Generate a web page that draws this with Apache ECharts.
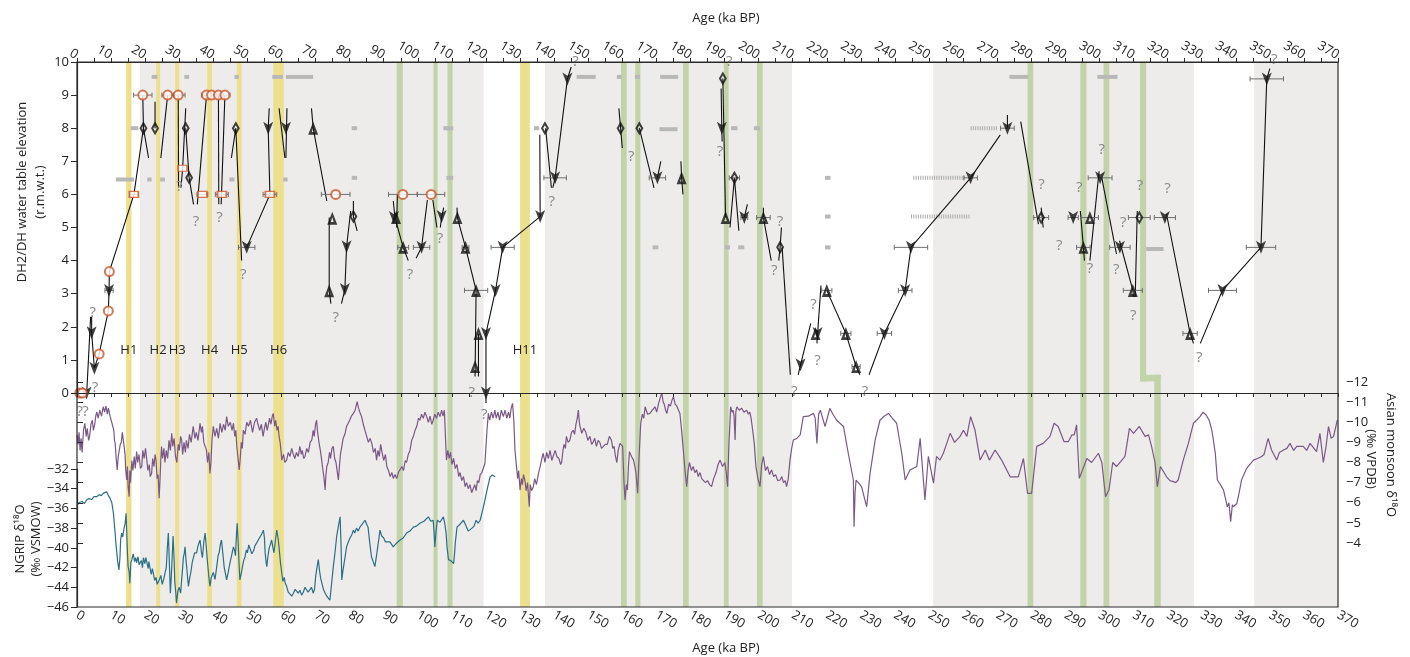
<!DOCTYPE html>
<html><head><meta charset="utf-8">
<script src="https://cdn.jsdelivr.net/npm/echarts@6/dist/echarts.min.js"></script>
<style>html,body{margin:0;padding:0;background:#fff}#c{width:1410px;height:657px}</style>
</head><body><div id="c"></div>
<script>
// ---------------- DATA ----------------
const xTicks = {min: 0, max: 370, step: 10};
const elevTicks = {min: 0, max: 10, step: 1};
const ngripTicks = {min: -46, max: -32, step: 2};
const monsoonTicks = {min: -12, max: -4, step: 1};

const greyBands = [[18.5,119.3],[137.3,209.8],[251.2,327.8],[345.4,370]];
const yellowBands = [[14.4,16.0],[23.2,24.4],[28.8,30.0],[38.2,39.6],[46.9,48.3],[57.6,60.7],[130.0,132.9]];
const hNames = ['H1','H2','H3','H4','H5','H6','H11'];
const hLabelElev = 1.3;
const greenBands = [[93.8,95.6],[104.6,105.8],[108.7,110.2],[159.6,161.3],[163.8,165.3],[177.8,179.5],[189.8,191.2],[199.5,201.2],[278.9,280.6],[294.4,296.2],[301.2,302.9]];
// [x0, x1, elevTop, elevBottom] (null bottom = to the lower edge of the panel)
const greenStep = [[311.9,313.7,10,0.35],[311.9,318.0,0.55,0.35],[316.1,318.0,0.55,null]];

// grey horizontal dashes [x0, x1, elevation]
const greyDashes = [
 [21.9,23.6,9.55],[31.5,32.9,9.55],[46.2,47.5,9.55],[57.3,60.4,9.55],[61.3,69.3,9.55],[146.6,152.2,9.55],[158.4,159.8,9.55],[163.7,165.2,9.55],[171.1,176.4,9.55],[273.6,279.1,9.55],[299.4,305.3,9.55],
 [15.8,18.0,8],[80.6,82.2,8],[107.5,110.4,8],[134.1,135.6,8],[170.9,176.2,7.97],[191.9,193.8,8],[198.6,200.4,8],
 [11.4,16.7,6.45],[20.6,21.9,6.45],[24.4,25.8,6.45],[44.7,46.2,6.45],[60.5,61.8,6.45],[80.6,82.2,6.5],[108.4,110.4,6.5],[219.5,221.1,6.5],
 [219.5,221.1,5.33],
 [168.9,170.6,4.4],[190.1,191.6,4.4],[194.0,195.8,4.4],[219.5,221.1,4.4],[313.7,318.8,4.35]
];
const hatchedDashes = [[262.2,270.3,8.0],[245.4,260.6,6.5],[244.7,262.2,5.33]];

// markers [age, elevation, age error (half width)]
const downTris = [[2.8,0,0],[4.3,1.82,0],[5.1,0.75,0],[9.4,3.1,1.2],[49.8,4.4,2.4],[56.1,8,0],[61.3,8,0],[78.6,3.13,0],[79.1,4.42,0],[93.0,5.3,0],[101.1,4.4,2.4],[107.0,5.33,0],[120.0,1.8,0],[120.0,0,0],[122.8,3.1,0],[124.9,4.4,3.4],[135.9,5.33,0],[140.3,6.5,3.3],[143.9,9.49,0],[170.3,6.5,2.4],[189.2,8,0],[195.8,5.3,1.0],[212.3,0.85,0],[217.3,1.8,0],[236.9,1.8,2.1],[243.0,3.1,2.0],[244.7,4.4,4.9],[262.2,6.5,2.0],[273.0,8,2.0],[292.3,5.3,1.5],[300.2,6.5,3.5],[306.0,4.4,3.0],[319.2,5.3,3.1],[336.1,3.1,4.1],[347.4,4.4,4.3],[349.1,9.49,4.9]];
const upTris = [[69.3,8,0],[74.9,5.28,0],[74.0,3.09,0],[93.6,5.3,0],[95.7,4.4,1.6],[111.6,5.3,0],[114.0,4.4,1.0],[117.1,3.1,3.4],[117.8,1.8,0],[116.8,0.8,0],[177.4,6.5,0],[190.3,5.3,0],[201.4,5.3,2.0],[216.7,1.8,0],[220.0,3.1,1.5],[225.6,1.8,1.5],[228.6,0.8,1.2],[295.3,4.4,2.0],[297.2,5.3,2.5],[309.8,3.1,2.8],[326.6,1.8,2.1]];
const diamonds = [[19.5,8,0],[22.9,8,0],[31.9,8,0],[32.9,6.5,0],[46.6,8,0],[81.1,5.33,0],[137.3,8,0],[159.5,8,0],[165.0,8,0],[189.5,9.5,0],[192.9,6.5,1.5],[206.3,4.4,0],[282.9,5.3,2.2],[311.7,5.3,3.2]];
const orangeCircles = [[0.8,0,0],[1.6,0,0],[6.5,1.18,0],[9.2,2.48,0],[9.5,3.67,0],[19.3,9,2.7],[26.6,9,1.7],[29.7,9,2.0],[38.0,9,1.5],[39.5,9,1.5],[41.5,9,1.5],[43.4,9,1.5],[75.9,6,4.2],[95.6,6,4.2],[103.9,6,4.0]];
const orangeRects = [[16.7,6,1.2],[31.0,6.79,0],[36.8,6,1.6],[42.5,6,1.9],[56.6,6,2.0]];

// connecting lines (each an ordered list of [age, elevation])
const pathSegments = [
 [[2.8,-0.1],[4.0,2.3]],
 [[4.3,2.3],[4.3,1.82],[5.1,0.75]],
 [[5.1,0.75],[6.5,1.18],[9.2,2.48],[9.4,3.1],[9.5,3.67],[16.7,6.0],[19.5,8.0]],
 [[19.3,9.0],[19.5,8.0],[21.0,7.1]],
 [[22.9,8.8],[22.9,8.0]],
 [[24.6,7.1],[26.6,9.0]],
 [[29.7,9.0],[29.8,6.2]],
 [[30.5,6.2],[31.0,6.79],[31.9,8.6]],
 [[31.9,8.0],[32.9,6.5],[34.2,5.7]],
 [[35.3,5.7],[38.0,9.0]],
 [[41.5,9.0],[41.6,5.7]],
 [[42.3,5.7],[43.4,9.0]],
 [[45.3,7.1],[46.6,8.0],[48.3,4.0]],
 [[49.8,4.4],[56.6,6.0],[56.1,8.0],[56.4,8.6]],
 [[59.3,8.6],[61.0,7.1]],
 [[61.6,8.6],[61.3,7.1]],
 [[68.8,8.6],[69.3,8.0],[73.3,5.8]],
 [[74.0,5.3],[74.0,3.09],[74.5,2.7]],
 [[77.6,2.7],[78.6,3.13],[79.1,4.42],[80.3,5.5]],
 [[81.1,5.8],[81.1,5.33],[82.2,4.9]],
 [[92.8,5.8],[93.3,5.3],[95.7,4.4],[97.2,4.0]],
 [[94.0,6.0],[93.8,5.0]],
 [[99.5,4.07],[101.1,4.4],[102.8,5.83]],
 [[104.4,5.83],[105.6,5.0]],
 [[106.6,5.0],[107.0,5.33],[107.6,5.6]],
 [[111.5,5.6],[111.6,5.3],[114.0,4.4],[117.1,3.1],[116.8,0.5]],
 [[117.8,1.8],[117.8,0.5]],
 [[120.0,-0.3],[120.0,1.8],[122.8,3.1],[124.9,4.4],[135.9,5.33],[135.8,7.8]],
 [[137.5,8.0],[139.2,6.2]],
 [[139.6,6.2],[140.3,6.5],[143.9,9.49],[145.0,9.85]],
 [[159.0,8.6],[159.5,8.0],[160.0,7.4]],
 [[165.0,8.0],[169.3,6.2]],
 [[170.3,6.5],[171.3,7.0]],
 [[177.2,7.0],[177.4,6.5],[177.8,6.0]],
 [[189.5,9.5],[190.3,5.3]],
 [[189.0,9.2],[189.2,8.0],[189.3,7.6]],
 [[191.6,5.0],[192.9,6.5],[194.2,4.9]],
 [[195.8,5.3],[196.7,5.7]],
 [[201.4,5.6],[201.4,5.3],[203.7,4.0]],
 [[205.9,4.0],[206.3,4.4],[206.7,5.0]],
 [[206.9,4.4],[209.3,0.55]],
 [[211.6,0.55],[212.3,0.85],[215.3,2.1]],
 [[217.1,1.5],[218.3,3.25]],
 [[220.0,3.1],[225.6,1.8],[228.6,0.8],[229.7,0.55]],
 [[232.4,0.55],[236.9,1.8],[243.0,3.1],[244.7,4.4],[262.2,6.5],[270.9,7.8]],
 [[273.0,8.4],[273.0,8.0]],
 [[276.9,8.2],[282.1,5.1]],
 [[282.9,5.6],[283.5,5.0]],
 [[294.4,5.5],[295.3,4.4],[295.6,4.0]],
 [[297.2,4.0],[299.9,6.7]],
 [[300.7,6.5],[305.0,4.2]],
 [[305.9,4.6],[309.8,3.1],[310.0,2.9]],
 [[310.5,2.9],[311.1,5.5]],
 [[319.7,5.4],[326.6,1.8],[327.6,1.5]],
 [[329.6,1.5],[336.1,3.1],[347.4,4.4],[349.1,9.49],[350.0,9.8]]
];

// question marks [age, elevation]
const queries = [[0.8,-0.56],[2.5,-0.56],[4.6,2.41],[5.3,0.15],[30.0,6.24],[34.9,5.18],[41.8,5.28],[48.8,3.56],[75.9,2.26],[97.7,3.56],[106.5,4.67],[115.8,0.0],[119.5,-0.67],[139.3,5.78],[146.3,10.0],[162.6,7.14],[188.7,7.29],[191.4,10.0],[204.6,3.7],[206.3,5.18],[210.5,0.04],[216.1,2.66],[217.3,0.98],[231.2,0.04],[283.0,6.28],[288.2,4.44],[294.1,6.21],[297.2,3.75],[300.7,7.34],[304.9,3.72],[307.0,5.13],[309.9,2.34],[311.9,6.25],[320.0,6.18],[329.3,1.08],[351.3,10.06]];

// Asian monsoon d18O [age, permil]
const monsoon = [[0,-9.37],[0.3,-8.9],[0.6,-9.5],[0.9,-8.6],[1.2,-9.2],[1.5,-8.5],[1.9,-9.6],[2.3,-9.95],[2.7,-9.3],[3.0,-9.7],[3.4,-9.1],[3.7,-9.3],[4.1,-9.9],[4.5,-10.1],[4.8,-9.6],[5.2,-9.9],[5.5,-10.3],[5.8,-10.52],[6.2,-10.2],[6.7,-10.6],[7.2,-10.3],[7.7,-10.77],[8.1,-10.5],[8.5,-10.8],[8.9,-10.4],[9.2,-10.7],[9.7,-10.3],[10.2,-10.28],[10.5,-9.8],[10.8,-9.6],[11.0,-9.1],[11.2,-8.95],[11.5,-8.2],[11.8,-7.63],[12.1,-8.3],[12.4,-8.6],[12.7,-8.9],[13.0,-9.0],[13.3,-9.5],[13.6,-9.45],[13.9,-8.7],[14.1,-8.4],[14.3,-7.6],[14.6,-7.13],[14.8,-7.8],[15.0,-6.8],[15.3,-6.3],[15.5,-7.6],[15.7,-7.0],[16.1,-8.1],[16.4,-7.6],[16.8,-8.3],[17.1,-7.7],[17.5,-8.54],[17.8,-8.0],[18.2,-8.4],[18.6,-7.7],[19,-7.8],[19.3,-8.6],[19.7,-8.2],[20.1,-8.7],[20.5,-8.1],[20.8,-7.6],[21.2,-7.9],[21.5,-7.3],[21.9,-7.46],[22.2,-8.2],[22.6,-7.8],[22.9,-8.4],[23.2,-8.1],[23.5,-7.2],[23.8,-7.4],[24.1,-6.22],[24.4,-7.3],[24.6,-8.2],[24.8,-8.79],[25.1,-8.2],[25.5,-8.7],[25.8,-8.0],[26.2,-8.6],[26.6,-8.2],[27.0,-9.1],[27.4,-8.6],[27.8,-9.45],[28.1,-8.8],[28.5,-9.2],[28.9,-8.3],[29.3,-8.0],[29.7,-8.9],[30.0,-8.6],[30.4,-9.3],[30.7,-9.12],[31.0,-8.4],[31.4,-9.0],[31.8,-8.5],[32.1,-9.1],[32.6,-8.7],[33.0,-9.4],[33.5,-9.0],[34.1,-9.8],[34.6,-9.2],[35.0,-9.5],[35.5,-9.1],[36.1,-9.95],[36.5,-9.5],[36.8,-9.8],[37.2,-9.0],[37.6,-8.8],[38.0,-8.6],[38.3,-8.0],[38.7,-8.5],[39.0,-7.46],[39.3,-8.0],[39.6,-9.1],[40.0,-9.8],[40.5,-9.3],[41.0,-9.7],[41.5,-9.2],[42.0,-9.95],[42.5,-9.5],[43.0,-9.9],[43.5,-9.6],[43.9,-10.28],[44.4,-9.8],[45.0,-10.0],[45.5,-9.6],[45.9,-9.95],[46.3,-9.3],[46.6,-9.6],[46.9,-8.8],[47.2,-8.3],[47.6,-7.63],[47.9,-8.2],[48.2,-9.0],[48.5,-8.7],[48.8,-9.6],[49.3,-9.4],[49.8,-10.0],[50.3,-9.8],[50.9,-10.1],[51.5,-9.5],[52.1,-10.0],[52.7,-10.2],[53.1,-9.9],[53.6,-9.6],[54.1,-9.9],[54.6,-9.3],[55.0,-9.7],[55.4,-10.0],[55.8,-9.6],[56.1,-9.85],[56.5,-10.2],[56.9,-9.9],[57.3,-10.3],[57.6,-10.44],[58.0,-9.8],[58.3,-10.1],[58.7,-9.6],[59.0,-9.8],[59.3,-9.3],[59.6,-9.0],[59.9,-8.5],[60.1,-8.12],[60.6,-8.4],[61.0,-8.0],[61.5,-8.12],[62.0,-8.5],[62.5,-8.3],[63.0,-8.7],[63.4,-8.45],[63.9,-8.2],[64.4,-8.5],[64.9,-8.3],[65.4,-8.8],[65.8,-8.4],[66.1,-8.6],[66.5,-8.2],[66.9,-8.3],[67.4,-8.7],[67.9,-8.5],[68.4,-9.0],[68.9,-9.12],[69.3,-9.6],[69.6,-9.3],[70.0,-9.9],[70.3,-10.1],[70.6,-9.5],[71.0,-9.0],[71.4,-8.6],[71.8,-8.12],[72.1,-7.7],[72.5,-7.2],[72.8,-6.63],[73.0,-7.3],[73.3,-7.8],[73.7,-8.0],[74.1,-8.5],[74.4,-8.2],[74.8,-8.7],[75.2,-8.8],[75.6,-8.2],[76.0,-8.0],[76.4,-7.5],[76.7,-7.13],[77.0,-7.8],[77.3,-8.4],[77.7,-8.8],[78.1,-9.2],[78.6,-9.4],[79.1,-9.8],[79.6,-9.95],[80.0,-10.1],[80.5,-10.3],[81.1,-10.44],[81.6,-10.6],[82.2,-11.02],[82.6,-10.7],[83.0,-10.5],[83.5,-10.28],[84.0,-9.9],[84.5,-9.6],[85,-9.3],[85.5,-9.0],[86.0,-9.2],[86.5,-8.95],[87.0,-8.5],[87.5,-8.7],[87.9,-8.12],[88.3,-8.6],[88.7,-8.3],[89.1,-8.9],[89.5,-8.5],[90.0,-8.1],[90.5,-8.4],[90.9,-7.8],[91.4,-7.6],[91.9,-7.3],[92.4,-7.5],[92.8,-7.21],[93.3,-7.4],[93.8,-7.2],[94.3,-7.5],[94.8,-7.46],[95.3,-7.8],[95.8,-7.6],[96.3,-8.1],[96.7,-8.0],[97.2,-8.4],[97.7,-8.6],[98.2,-9.1],[98.7,-9.3],[99.2,-9.6],[99.7,-9.8],[100.2,-10.2],[100.6,-10.1],[101.1,-10.4],[101.6,-10.2],[102.1,-10.5],[102.6,-10.28],[103.1,-10.0],[103.6,-10.3],[104.1,-9.9],[104.5,-10.1],[105.0,-10.4],[105.5,-10.2],[106.0,-10.5],[106.5,-10.28],[107.0,-10.6],[107.4,-10.3],[107.8,-10.6],[108.1,-9.3],[108.4,-8.12],[108.8,-8.6],[109.2,-8.2],[109.6,-8.5],[110.0,-7.9],[110.5,-8.2],[111.0,-7.7],[111.5,-7.9],[112.0,-7.3],[112.4,-7.5],[112.9,-7.1],[113.4,-7.3],[113.9,-6.8],[114.3,-7.0],[114.8,-6.7],[115.3,-6.9],[115.8,-6.5],[116.3,-6.47],[116.7,-6.9],[117.1,-6.6],[117.5,-7.1],[117.9,-7.0],[118.3,-7.4],[118.8,-7.5],[119.2,-7.7],[119.7,-7.96],[120.0,-8.8],[120.3,-9.6],[120.7,-10.44],[121.1,-10.1],[121.6,-10.5],[122.1,-10.2],[122.6,-10.6],[123.0,-10.2],[123.5,-10.5],[124.0,-10.1],[124.5,-10.6],[125.1,-10.28],[125.6,-10.6],[126.1,-10.2],[126.6,-10.5],[127.0,-10.2],[127.4,-10.7],[127.8,-10.94],[128.2,-10.0],[128.5,-8.62],[128.9,-7.9],[129.3,-7.2],[129.6,-7.6],[130.0,-6.63],[130.4,-7.2],[130.7,-6.9],[131.0,-7.4],[131.4,-7.13],[131.8,-6.6],[132.2,-7.0],[132.7,-5.8],[133.0,-6.9],[133.4,-6.6],[133.9,-6.8],[134.3,-7.2],[134.8,-6.9],[135.4,-7.46],[135.9,-7.8],[136.4,-8.2],[136.8,-8.46],[137.3,-8.0],[137.8,-8.5],[138.3,-8.2],[138.8,-8.6],[139.3,-8.1],[139.8,-8.12],[140.3,-8.6],[140.8,-8.3],[141.4,-8.2],[141.9,-7.9],[142.2,-8.0],[142.6,-8.6],[142.9,-8.9],[143.3,-8.7],[143.6,-9.3],[144.1,-9.0],[144.6,-9.1],[145.1,-9.5],[145.6,-9.6],[146.0,-9.4],[146.4,-9.9],[146.8,-10.2],[147.1,-10.6],[147.4,-10.0],[147.6,-9.8],[148.1,-9.45],[148.7,-9.7],[149.3,-9.5],[149.9,-9.1],[150.5,-9.3],[151.0,-8.9],[151.4,-9.0],[151.9,-9.2],[152.4,-8.8],[152.9,-9.1],[153.4,-9.0],[153.9,-8.7],[154.4,-8.62],[155.0,-8.9],[155.6,-8.9],[156.2,-9.3],[156.8,-9.12],[157.2,-8.7],[157.6,-8.8],[158.0,-8.3],[158.4,-8.0],[158.8,-8.6],[159.3,-8.95],[159.7,-9.0],[160.1,-8.8],[160.5,-7.0],[160.8,-6.14],[161.2,-6.9],[161.5,-6.63],[161.8,-7.8],[162.1,-8.54],[162.7,-8.3],[163.3,-8.12],[163.7,-7.8],[164.0,-7.5],[164.3,-6.9],[164.5,-6.47],[164.9,-8.2],[165.4,-9.95],[165.9,-10.4],[166.3,-10.2],[166.7,-10.77],[167.4,-10.4],[168.1,-10.44],[168.8,-10.6],[169.6,-10.77],[170.1,-10.5],[170.6,-10.9],[171.1,-11.2],[171.6,-11.44],[172.0,-11.0],[172.3,-10.9],[172.7,-10.6],[173.1,-10.44],[173.6,-10.9],[174.1,-10.8],[174.6,-11.1],[175.0,-11.27],[175.5,-10.9],[176.0,-10.8],[176.5,-10.6],[176.9,-10.44],[177.4,-9.6],[177.9,-8.62],[178.4,-7.6],[178.9,-6.8],[179.3,-7.6],[179.7,-8.0],[180.3,-7.6],[180.8,-7.8],[181.3,-7.5],[181.8,-7.63],[182.3,-7.3],[182.8,-7.5],[183.3,-7.2],[183.8,-7.29],[184.4,-7.0],[185,-7.1],[185.6,-6.9],[186.2,-6.8],[186.8,-7.2],[187.5,-7.5],[188.1,-7.9],[188.7,-8.12],[189.4,-7.8],[190.1,-8.0],[190.5,-7.5],[190.9,-6.8],[191.3,-9.0],[191.8,-10.77],[192.2,-10.5],[192.5,-10.6],[192.8,-10.3],[193.1,-9.12],[193.3,-10.5],[193.6,-10.77],[194.3,-10.6],[195,-10.7],[195.7,-10.5],[196.5,-10.6],[197.0,-10.4],[197.4,-10.5],[197.8,-10.2],[198.2,-10.28],[198.7,-9.0],[199.2,-7.8],[199.8,-7.2],[200.4,-6.8],[200.9,-7.9],[201.4,-8.3],[202.0,-7.6],[202.6,-7.8],[203.2,-7.4],[203.8,-7.63],[204.4,-7.3],[205,-7.4],[205.6,-7.1],[206.3,-7.13],[206.8,-7.3],[207.3,-7.0],[207.8,-7.1],[208.2,-6.8],[208.7,-7.2],[209.2,-8.12],[209.7,-8.7],[210.2,-9.12],[211.2,-9.2],[212.2,-9.37],[213.1,-10.28],[214.6,-10.3],[216.1,-10.44],[216.6,-10.2],[217.1,-8.95],[217.6,-10.4],[218.1,-10.6],[219.5,-9.79],[220.9,-10.69],[221.8,-10.4],[222.9,-10.1],[224.9,-9.79],[226.3,-8.46],[227.8,-7.13],[228.0,-4.81],[228.3,-6.5],[228.6,-7.13],[230.2,-6.8],[231.7,-5.8],[232.7,-7.46],[234.2,-9.12],[235.6,-10.1],[236.8,-10.3],[238.1,-10.44],[239.2,-10.2],[240.5,-9.95],[242,-8.46],[243,-7.13],[244.4,-7.63],[246.4,-7.8],[247.4,-9.2],[248.8,-6.14],[249.8,-8.3],[251.3,-6.97],[252.2,-8.3],[253.2,-8.12],[254.2,-8.46],[255.2,-8.95],[256.2,-9.45],[257.5,-9.0],[259.1,-9.3],[260.1,-9.6],[261.1,-9.3],[262.2,-10.28],[263.5,-9.6],[265.0,-8.12],[266.5,-8.62],[267.7,-8.12],[269.4,-8.62],[271.3,-8.12],[273.8,-7.29],[276.2,-7.29],[277.7,-8.2],[278.9,-6.47],[280.1,-6.47],[281.6,-8.8],[283.5,-8.95],[285.5,-9.3],[286.7,-9.95],[287.9,-9.79],[289.6,-9.04],[290.9,-9.04],[291.9,-9.37],[292.6,-9.37],[293.3,-9.87],[294.1,-7.21],[296.3,-8.2],[297.7,-8.0],[299.7,-8.46],[300.7,-8.0],[301.8,-6.3],[302.8,-6.63],[303.9,-8.0],[305.0,-7.8],[307.5,-8.3],[308.8,-9.7],[310.0,-9.45],[311.7,-9.79],[313.4,-9.3],[314.4,-9.37],[315.3,-8.8],[316.3,-8.0],[317.0,-6.8],[317.9,-7.8],[319.7,-7.29],[320.7,-7.1],[321.7,-7.05],[322.4,-7.0],[323.1,-7.13],[324.6,-8.12],[326.1,-8.95],[326.9,-9.5],[327.6,-9.95],[328.5,-10.1],[329.5,-10.28],[330.4,-10.5],[331.3,-10.36],[332.2,-10.1],[333,-9.6],[334,-8.46],[334.6,-7.13],[335.5,-6.9],[336.4,-6.63],[337.0,-6.2],[337.5,-5.8],[338.0,-6.0],[338.5,-5.06],[339.0,-5.9],[339.3,-5.8],[340.3,-5.96],[341.0,-6.5],[341.7,-7.13],[343.2,-7.71],[345.2,-8.12],[346.4,-8.2],[347.6,-8.3],[348.3,-8.4],[349.5,-9.2],[350.5,-8.62],[352.0,-8.12],[352.8,-8.5],[354.0,-8.62],[355.0,-8.7],[355.9,-8.95],[357.0,-8.6],[357.9,-8.8],[359.8,-8.8],[360.8,-8.6],[361.8,-8.95],[363.7,-8.54],[364.7,-9.45],[365.7,-8.0],[366.5,-8.8],[367.2,-9.79],[368.0,-9.2],[368.7,-9.3],[369.8,-10.1]];

// NGRIP d18O [age, permil]
const ngrip = [[0,-35.65],[0.7,-35.4],[1.5,-35.3],[2.2,-35.5],[2.8,-35.15],[3.5,-35.0],[4.3,-35.1],[5.0,-34.8],[5.8,-34.81],[6.5,-34.6],[7.1,-34.7],[7.7,-34.47],[8.2,-34.6],[8.7,-34.3],[9.2,-34.7],[9.7,-34.98],[10.2,-35.4],[10.7,-36.5],[11.0,-37.8],[11.2,-38.5],[11.4,-39.5],[11.6,-40.2],[11.9,-41.3],[12.3,-42.25],[12.6,-41.0],[12.8,-39.2],[13.1,-38.5],[13.4,-38.9],[13.8,-38.0],[14.1,-37.6],[14.4,-36.5],[14.6,-38.5],[14.8,-40.5],[15.0,-41.9],[15.3,-42.4],[15.5,-43.6],[15.8,-41.5],[16.1,-41.2],[16.5,-40.6],[16.9,-41.4],[17.2,-41.0],[17.5,-41.5],[17.9,-40.9],[18.2,-41.7],[18.5,-41.9],[18.9,-41.3],[19.2,-42.0],[19.5,-41.0],[19.9,-41.6],[20.2,-41.0],[20.5,-41.2],[20.9,-42.1],[21.1,-41.4],[21.4,-42.0],[21.8,-42.7],[22.1,-42.1],[22.4,-42.6],[22.8,-43.3],[23.2,-43.0],[23.5,-43.7],[23.9,-43.9],[24.2,-43.2],[24.6,-42.8],[25.0,-43.7],[25.4,-43.25],[25.8,-42.6],[26.2,-42.0],[26.5,-40.0],[26.8,-38.5],[27.1,-41.5],[27.4,-44.6],[27.8,-42.0],[28.2,-38.8],[28.5,-41.2],[28.7,-43.5],[29.0,-44.6],[29.2,-45.6],[29.6,-44.4],[30.0,-44.0],[30.4,-44.6],[30.7,-43.25],[31.0,-42.0],[31.2,-41.0],[31.5,-40.5],[31.7,-39.9],[32.0,-41.3],[32.2,-42.0],[32.5,-43.2],[32.7,-43.9],[33.1,-43.0],[33.4,-42.5],[33.8,-41.5],[34.1,-41.6],[34.5,-40.5],[35.1,-40.5],[35.5,-39.8],[36.1,-39.2],[36.5,-40.4],[36.8,-41.0],[37.2,-39.4],[37.6,-38.5],[38.0,-40.2],[38.3,-41.5],[38.7,-43.0],[39.0,-43.9],[39.4,-43.0],[40.0,-42.5],[40.5,-43.2],[41,-41.9],[41.4,-40.8],[41.7,-40.5],[42.1,-39.6],[42.4,-39.2],[42.8,-40.6],[43.2,-42.0],[43.6,-42.7],[43.9,-43.25],[44.4,-42.4],[44.9,-41.5],[45.4,-40.7],[45.9,-39.9],[46.2,-40.2],[46.5,-40.8],[46.8,-38.6],[47.0,-37.5],[47.3,-39.5],[47.6,-42.0],[47.8,-43.25],[48.2,-42.6],[48.5,-42.0],[48.9,-41.3],[49.3,-40.9],[49.7,-40.2],[50.0,-40.5],[50.4,-39.7],[50.8,-39.9],[51.3,-40.6],[51.8,-40.3],[52.2,-39.8],[52.7,-39.6],[53.2,-39.2],[53.7,-39.0],[54.2,-38.6],[54.7,-38.2],[55.0,-39.0],[55.2,-40.5],[55.5,-41.5],[55.7,-41.9],[56.0,-40.9],[56.4,-40.0],[56.8,-39.6],[57.1,-39.2],[57.5,-40.0],[57.8,-40.5],[58.2,-39.3],[58.6,-38.2],[59.0,-39.0],[59.3,-40.0],[59.7,-41.5],[60.1,-42.6],[60.4,-43.4],[60.8,-43.0],[61.1,-43.6],[61.5,-43.9],[62.0,-44.5],[62.5,-44.3],[63.0,-44.9],[63.5,-44.6],[64.0,-44.2],[64.4,-44.0],[64.9,-44.6],[65.4,-44.3],[65.9,-44.8],[66.4,-44.5],[66.9,-44.0],[67.4,-43.9],[67.8,-44.5],[68.3,-44.4],[68.8,-44.0],[69.3,-44.6],[69.7,-44.2],[70.0,-43.0],[70.4,-42.0],[70.8,-41.2],[71.2,-42.4],[71.5,-43.1],[71.8,-43.5],[72.3,-44.2],[72.8,-44.6],[73.2,-44.4],[73.5,-45.0],[73.9,-44.8],[74.2,-45.3],[74.6,-44.0],[75.2,-41.9],[75.7,-40.5],[76.2,-38.8],[76.7,-37.8],[77.2,-36.85],[77.5,-40.0],[77.7,-43.25],[78.0,-42.4],[78.4,-41.5],[78.8,-40.6],[79.1,-39.9],[79.6,-39.4],[80.1,-39.0],[80.6,-38.7],[81.1,-38.2],[81.5,-38.5],[82.0,-38.0],[82.5,-38.3],[83,-37.9],[83.7,-37.6],[84.5,-37.2],[85.0,-37.6],[85.4,-37.9],[85.9,-39.5],[86.4,-40.9],[86.9,-41.4],[87.4,-41.9],[87.8,-41.0],[88.2,-40.0],[88.6,-39.0],[88.9,-38.2],[89.4,-38.8],[90.0,-39.0],[90.5,-39.4],[90.9,-39.6],[91.8,-39.4],[92.8,-39.9],[93.8,-39.5],[94.8,-39.2],[95.7,-39.0],[96.7,-38.5],[97.7,-38.3],[98.7,-37.9],[99.6,-37.8],[100.6,-37.5],[101.8,-37.3],[103.1,-36.85],[103.8,-37.3],[104.5,-37.2],[104.8,-38.5],[105.0,-39.9],[105.3,-38.5],[105.7,-37.2],[106.5,-37.4],[107.5,-36.85],[107.9,-37.5],[108.3,-38.5],[108.6,-40.0],[109,-41.2],[109.7,-41.3],[110.5,-41.6],[110.8,-40.5],[111.0,-39.5],[111.5,-37.9],[112.4,-37.6],[113.4,-37.2],[113.8,-37.5],[114.3,-37.9],[114.8,-38.3],[115.3,-38.5],[115.9,-38.0],[116.5,-37.8],[117.1,-37.2],[117.7,-37.5],[118.3,-37.2],[119.0,-36.2],[119.7,-35.15],[120.4,-34.0],[121.2,-32.8],[121.9,-32.6],[122.7,-32.8]];

// ---------------- CHART ----------------
const FONT = '"Open Sans","Noto Sans","DejaVu Sans",sans-serif';
const PLOT = {left: 77, right: 1338, top: 62, bottom: 607};
const ELEV_ZERO_Y = 393;                  // pixel row of elevation 0
const NGRIP_TOP_Y = 469, MONSOON_TOP_Y = 382, MONSOON_BOT_Y = 543;
const elevPx = (ELEV_ZERO_Y - PLOT.top) / (elevTicks.max - elevTicks.min);
const elevPanelMin = elevTicks.max - (PLOT.bottom - PLOT.top) / elevPx;
const W = PLOT.right - PLOT.left;

const chart = echarts.init(document.getElementById('c'));
const AX = '#2a2a2a';
const minus = v => String(v).replace('-', '\u2212');

function bandSeries(bands, color, z) {
  return {type: 'custom', xAxisIndex: 0, yAxisIndex: 0, z, silent: true,
    data: bands.map(b => [b[0], b[1]]),
    renderItem: (params, api) => {
      const cs = params.coordSys;
      const x0 = api.coord([api.value(0), 0])[0], x1 = api.coord([api.value(1), 0])[0];
      return {type: 'rect', shape: {x: x0, y: cs.y, width: x1 - x0, height: cs.height}, style: {fill: color}};
    }};
}
const allMarkers = [].concat(downTris, upTris, diamonds, orangeCircles, orangeRects).filter(d => d[2] > 0);

const DOWN = 'path://M0,0 L5,3.5 L10,0 L5,14 Z';
const UP = 'path://M5,0 L10,14 L0,14 Z M5,6 L3.6,11 L6.4,11 Z';
const DIAM = 'path://M5,0 L10,8 L5,16 L0,8 Z M5,4.5 L2.8,8 L5,11.5 L7.2,8 Z';

const xBase = {type: 'value', min: xTicks.min, max: xTicks.max, interval: xTicks.step, splitLine: {show: false}};
const hiddenX = g => Object.assign({}, xBase, {gridIndex: g, show: false});
const txt = (text, x, y, rot) => ({type: 'text', x, y, rotation: rot || 0,
  style: {text, font: '13px ' + FONT, fill: '#222', align: 'center', verticalAlign: 'middle', textAlign: 'center', textVerticalAlign: 'middle'}});

const option = {
  animation: false,
  backgroundColor: '#fff',
  textStyle: {fontFamily: FONT},
  grid: [
    {left: PLOT.left, top: PLOT.top, width: W, height: PLOT.bottom - PLOT.top, show: true, borderColor: AX, borderWidth: 1.2, backgroundColor: 'transparent', z: 10},
    {left: PLOT.left, top: PLOT.top, width: W, height: ELEV_ZERO_Y - PLOT.top},
    {left: PLOT.left, top: NGRIP_TOP_Y, width: W, height: PLOT.bottom - NGRIP_TOP_Y},
    {left: PLOT.left, top: MONSOON_TOP_Y, width: W, height: MONSOON_BOT_Y - MONSOON_TOP_Y}
  ],
  xAxis: [
    Object.assign({}, xBase, {gridIndex: 0, position: 'bottom', z: 10,
      axisLine: {show: true, lineStyle: {color: AX, width: 1.2}},
      axisTick: {show: true, length: 4, lineStyle: {color: AX}},
      minorTick: {show: true, splitNumber: 2, length: 4, lineStyle: {color: AX}},
      axisLabel: {rotate: -30, margin: 7, fontSize: 13, color: '#222', fontFamily: FONT}}),
    Object.assign({}, xBase, {gridIndex: 0, position: 'top', z: 10,
      axisLine: {show: true, lineStyle: {color: AX, width: 1.2}},
      axisTick: {show: true, length: 4, lineStyle: {color: AX}},
      minorTick: {show: true, splitNumber: 2, length: 4, lineStyle: {color: AX}},
      axisLabel: {rotate: 30, margin: 6, fontSize: 13, color: '#222', fontFamily: FONT}}),
    hiddenX(1), hiddenX(2), hiddenX(3)
  ],
  yAxis: [
    {gridIndex: 0, type: 'value', min: elevPanelMin, max: elevTicks.max, show: false},
    {gridIndex: 1, type: 'value', position: 'left', min: elevTicks.min, max: elevTicks.max, interval: elevTicks.step, z: 10,
      axisLine: {show: true, lineStyle: {color: AX, width: 1.2}}, axisTick: {show: true, length: 6, lineStyle: {color: AX}},
      axisLabel: {fontSize: 13, margin: 8, color: '#222', fontFamily: FONT}, splitLine: {show: false}},
    {gridIndex: 2, type: 'value', position: 'left', min: ngripTicks.min, max: ngripTicks.max, interval: ngripTicks.step, z: 10,
      axisLine: {show: true, lineStyle: {color: AX, width: 1.2}}, axisTick: {show: true, length: 6, lineStyle: {color: AX}},
      axisLabel: {fontSize: 13, margin: 8, color: '#222', fontFamily: FONT, formatter: minus}, splitLine: {show: false}},
    {gridIndex: 3, type: 'value', position: 'right', inverse: true, min: monsoonTicks.min, max: monsoonTicks.max, interval: monsoonTicks.step, z: 10,
      axisLine: {show: false}, axisTick: {show: true, length: 6, lineStyle: {color: AX}},
      axisLabel: {fontSize: 13, margin: 8, color: '#222', fontFamily: FONT, formatter: minus}, splitLine: {show: false}}
  ],
  graphic: [
    txt('Age (ka BP)', 726, 18),
    txt('Age (ka BP)', 726, 648),
    txt('DH2/DH water table elevation', 22, 192, Math.PI / 2),
    txt('(r.m.w.t.)', 40, 192, Math.PI / 2),
    txt('NGRIP \u03b4\u00b9\u2078O', 20, 539, Math.PI / 2),
    txt('(\u2030 VSMOW)', 36, 539, Math.PI / 2),
    txt('Asian monsoon \u03b4\u00b9\u2078O', 1391, 455, -Math.PI / 2),
    txt('(\u2030 VPDB)', 1371, 459, -Math.PI / 2)
  ],
  series: [
    bandSeries(greyBands, '#edeceb', 1),
    bandSeries(yellowBands, '#ece08e', 1),
    bandSeries(greenBands, '#c2d3a9', 1),
    {type: 'custom', xAxisIndex: 0, yAxisIndex: 0, z: 1, silent: true,
      data: greenStep.map(s => [s[0], s[2]]),
      renderItem: (params, api) => {
        const s = greenStep[params.dataIndex], cs = params.coordSys;
        const a = api.coord([s[0], s[2]]), b = api.coord([s[1], s[3] == null ? elevPanelMin : s[3]]);
        return {type: 'rect', shape: {x: a[0], y: a[1], width: b[0] - a[0], height: Math.min(b[1], cs.y + cs.height) - a[1]}, style: {fill: '#c2d3a9'}};
      }},
    {type: 'line', xAxisIndex: 3, yAxisIndex: 2, z: 3, data: ngrip, showSymbol: false, silent: true,
      lineStyle: {color: '#2b6f86', width: 1.2}},
    {type: 'line', xAxisIndex: 4, yAxisIndex: 3, z: 3, data: monsoon, showSymbol: false, silent: true,
      lineStyle: {color: '#7a5886', width: 1.2}},
    {type: 'custom', xAxisIndex: 0, yAxisIndex: 0, z: 3, silent: true,
      data: greyDashes.map(d => [d[0], d[2], d[1]]),
      renderItem: (params, api) => {
        const a = api.coord([api.value(0), api.value(1)]), b = api.coord([api.value(2), api.value(1)]);
        return {type: 'rect', shape: {x: a[0], y: a[1] - 2, width: b[0] - a[0], height: 4}, style: {fill: '#b8b8b8'}};
      }},
    {type: 'custom', xAxisIndex: 0, yAxisIndex: 0, z: 3, silent: true,
      data: hatchedDashes.map(d => [d[0], d[2], d[1]]),
      renderItem: (params, api) => {
        const a = api.coord([api.value(0), api.value(1)]), b = api.coord([api.value(2), api.value(1)]);
        return {type: 'line', shape: {x1: a[0], y1: a[1], x2: b[0], y2: b[1]}, style: {stroke: '#a9a9a9', lineWidth: 4, lineDash: [1, 1.3]}};
      }},
    {type: 'custom', xAxisIndex: 0, yAxisIndex: 0, z: 6, silent: true,
      data: yellowBands.map(b => [(b[0] + b[1]) / 2, hLabelElev]),
      renderItem: (params, api) => {
        const p = api.coord([api.value(0), api.value(1)]);
        return {type: 'text', x: p[0], y: p[1], style: {text: hNames[params.dataIndex], font: '13px ' + FONT, fill: '#222', align: 'center', verticalAlign: 'middle', textAlign: 'center', textVerticalAlign: 'middle'}};
      }},
    {type: 'custom', xAxisIndex: 0, yAxisIndex: 0, z: 4, silent: true,
      data: pathSegments.map(s => s[0]),
      renderItem: (params, api) => {
        const pts = pathSegments[params.dataIndex].map(p => api.coord(p));
        return {type: 'polyline', shape: {points: pts}, style: {stroke: '#111', lineWidth: 1.1, fill: null}};
      }},
    {type: 'custom', xAxisIndex: 0, yAxisIndex: 0, z: 4, silent: true,
      data: allMarkers,
      renderItem: (params, api) => {
        const x = api.value(0), y = api.value(1), e = api.value(2);
        const a = api.coord([x - e, y]), b = api.coord([x + e, y]);
        const st = {stroke: '#6e6e6e', lineWidth: 1};
        return {type: 'group', children: [
          {type: 'line', shape: {x1: a[0], y1: a[1], x2: b[0], y2: b[1]}, style: st},
          {type: 'line', shape: {x1: a[0], y1: a[1] - 2.5, x2: a[0], y2: a[1] + 2.5}, style: st},
          {type: 'line', shape: {x1: b[0], y1: b[1] - 2.5, x2: b[0], y2: b[1] + 2.5}, style: st}
        ]};
      }},
    {type: 'scatter', xAxisIndex: 0, yAxisIndex: 0, z: 6, silent: true, clip: false, data: downTris.map(d => [d[0], d[1]]),
      symbol: DOWN, symbolSize: [10, 13], itemStyle: {color: '#111'}},
    {type: 'scatter', xAxisIndex: 0, yAxisIndex: 0, z: 6, silent: true, clip: false, data: upTris.map(d => [d[0], d[1]]),
      symbol: UP, symbolSize: [10, 13], itemStyle: {color: '#111'}},
    {type: 'scatter', xAxisIndex: 0, yAxisIndex: 0, z: 6, silent: true, clip: false, data: diamonds.map(d => [d[0], d[1]]),
      symbol: DIAM, symbolSize: [8, 14], itemStyle: {color: '#111'}},
    {type: 'scatter', xAxisIndex: 0, yAxisIndex: 0, z: 6, silent: true, clip: false, data: orangeCircles.map(d => [d[0], d[1]]),
      symbol: 'circle', symbolSize: 9, itemStyle: {color: '#fff', borderColor: '#c9562b', borderWidth: 2}},
    {type: 'scatter', xAxisIndex: 0, yAxisIndex: 0, z: 6, silent: true, clip: false, data: orangeRects.map(d => [d[0], d[1]]),
      symbol: 'rect', symbolSize: [9, 6], itemStyle: {color: '#fff', borderColor: '#c9562b', borderWidth: 1.5}},
    {type: 'custom', xAxisIndex: 0, yAxisIndex: 0, z: 6, silent: true,
      data: queries,
      renderItem: (params, api) => {
        const p = api.coord([api.value(0), api.value(1)]);
        return {type: 'text', x: p[0], y: p[1], style: {text: '?', font: '15px ' + FONT, fill: '#8a8a8a', align: 'center', verticalAlign: 'middle', textAlign: 'center', textVerticalAlign: 'middle'}};
      }}
  ]
};
chart.setOption(option);
</script></body></html>
